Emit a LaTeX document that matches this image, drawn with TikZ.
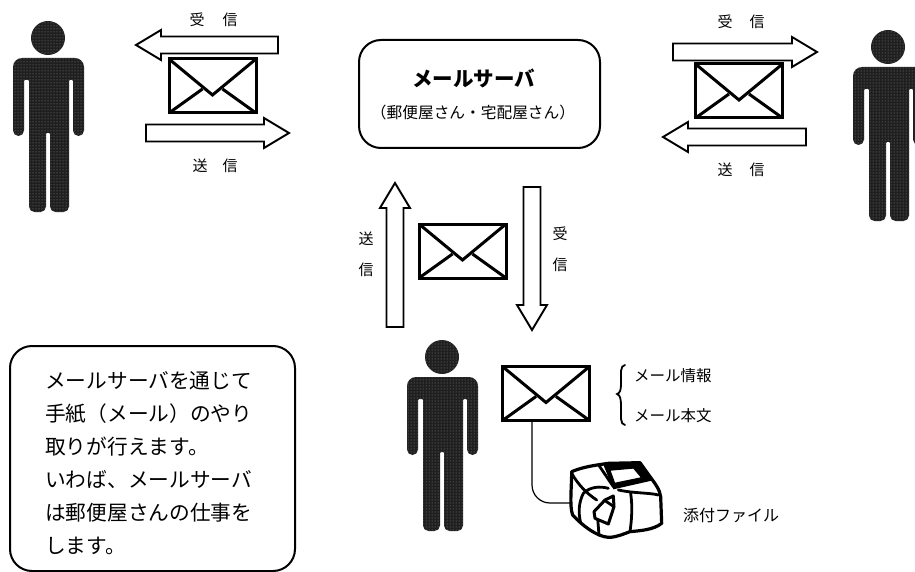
\documentclass[tikz,border=0pt]{standalone}
\usepackage{fontspec}
\usetikzlibrary{calc,patterns}
\newfontfamily\jp{Noto Sans CJK JP}
\newcommand{\jpsize}[2]{\jp\fontsize{#1}{#2}\selectfont}
\tikzset{
  x=1pt,y=-1pt,
  roundbox/.style={draw,line width=2pt,rounded corners=22pt,inner sep=0pt,outer sep=0pt,fill=white},
  label15/.style={inner sep=0pt,font=\jpsize{15}{31}},
  personfill/.style={fill=black!88,postaction={pattern=dots,pattern color=white!55!black}},
  envelope/.style={draw,line width=3pt,minimum width=87pt,minimum height=54pt,inner sep=0pt,outer sep=0pt,
    path picture={
      \draw[line width=3pt,line join=miter]
        (path picture bounding box.north west)
        -- ([yshift=-9pt]path picture bounding box.center)
        -- (path picture bounding box.north east);
      \draw[line width=3pt]
        (path picture bounding box.south west) -- ([xshift=-10pt,yshift=-3pt]path picture bounding box.center);
      \draw[line width=3pt]
        (path picture bounding box.south east) -- ([xshift=10pt,yshift=-3pt]path picture bounding box.center);
    }},
  blockarrow/.pic={
    \draw[line width=1.9pt,fill=white,line join=miter]
      (0,-8.5) -- (#1-25,-8.5) -- (#1-25,-15) -- (#1,0) -- (#1-25,15) -- (#1-25,8.5) -- (0,8.5) -- cycle;
  },
  person/.pic={
    \path[personfill] (0,0) circle[radius=17];
    \path[personfill,rounded corners=9pt]
      (0,20) -- (-35,20) [rounded corners=5.5pt] -- (-35,98) -- (-24,98) [rounded corners=1pt] -- (-24,42)
      -- (-19,42) [rounded corners=5.5pt] -- (-19,174) -- (-2,174) [rounded corners=1pt] -- (-2,95) -- (2,95)
      [rounded corners=5.5pt] -- (2,174) -- (21,174) [rounded corners=1pt] -- (21,42) -- (25,42) [rounded corners=5.5pt]
      -- (25,98) -- (36,98) [rounded corners=9pt] -- (36,20) -- cycle;
  }
}
\begin{document}
\begin{tikzpicture}
\clip (0,0) rectangle (915,572);

% Three people
\pic at (48,38) {person};
\pic at (888,47) {person};
\pic at (442,357) {person};

% Server and explanation panels
\node[roundbox,minimum width=241pt,minimum height=108pt] (server) at (479.5,94) {};
\node[inner sep=0pt,font=\jpsize{20.5}{24}\bfseries] (servertitle) at (473.5,78) {メールサーバ};
\node[inner sep=0pt,font=\jpsize{15.7}{18}] (serversub) at (473,113) {（郵便屋さん・宅配屋さん）};
\node[roundbox,minimum width=285pt,minimum height=225pt] (notebox) at (152.5,458.5) {};
\node[inner sep=0pt,anchor=west,align=left,font=\jpsize{20.7}{33}] (notetext) at (45,463) {メールサーバを通じて\\手紙（メール）のやり\\取りが行えます。\\いわば、メールサーバ\\は郵便屋さんの仕事を\\します。};

% Envelopes
\node[envelope] (envleft) at (212.5,86) {};
\node[envelope] (envright) at (739,91) {};
\node[envelope] (envcentre) at (462.5,251) {};
\node[envelope] (envbottom) at (546,393.5) {};

% Send and receive arrows
\pic[rotate=180] at (278,45) {blockarrow=142};
\pic at (146,133) {blockarrow=143};
\pic at (673,52) {blockarrow=144};
\pic[rotate=180] at (806,137) {blockarrow=143};
\pic[rotate=90] at (395,327) {blockarrow=144};
\pic[rotate=-90] at (532,187) {blockarrow=143};

% Arrow captions
\node[label15] (recvl) at (213.5,20) {受\hspace{18pt}信};
\node[label15] (sendl) at (215,166) {送\hspace{15pt}信};
\node[label15] (recvr) at (741,22) {受\hspace{17pt}信};
\node[label15] (sendr) at (741,170) {送\hspace{17pt}信};
\node[label15,align=center] (sendc) at (366,254) {送\\信};
\node[label15,align=center] (recvc) at (560,249.5) {受\\信};

% Mail parts
\draw[line width=1.8pt,line cap=round] (625,365) .. controls (620,366) and (621,372) .. (621,384)
  .. controls (621,390) and (620,393) .. (617,394)
  .. controls (620,395) and (621,399) .. (621,405)
  .. controls (621,418) and (620,424) .. (625,425);
\node[inner sep=0pt,anchor=west,font=\jpsize{15.5}{18}] (mailinfo) at (634,376) {メール情報};
\node[inner sep=0pt,anchor=west,font=\jpsize{15.5}{18}] (mailbody) at (634,416) {メール本文};
\node[inner sep=0pt,anchor=west,font=\jpsize{16}{18}] (attachlabel) at (683,515) {添付ファイル};

% Attachment line and parcel
\coordinate (parcel) at (570,503);
\draw[line width=1.2pt,rounded corners=18pt] ([xshift=-14pt]envbottom.south) |- (parcel);
\begin{scope}[shift={(400,330)},scale=1/3,line join=round,line cap=round]
  \draw[line width=3.2pt,fill=white]
    (515,425) .. controls (550,410) and (590,405) .. (625,400)
    -- (720,398) -- (750,440) .. controls (765,460) and (780,480) .. (782,500)
    -- (785,580) .. controls (760,600) and (720,602) .. (690,605)
    .. controls (670,612) and (650,622) .. (625,622)
    .. controls (590,620) and (545,585) .. (518,555)
    .. controls (508,530) and (515,470) .. (515,425) -- cycle;
  % top face edges
  \draw[line width=2.8pt] (515,430) .. controls (535,465) and (560,490) .. (590,510);
  \draw[line width=2.8pt] (775,495) .. controls (750,488) and (700,490) .. (655,480);
  \draw[line width=2.8pt] (598,408) -- (640,470);
  \draw[line width=2.8pt] (550,490) .. controls (570,470) and (600,468) .. (625,475);
  % dark ribbon with its pale panel
  \fill[even odd rule] (610,404) -- (722,396) -- (755,452) -- (640,478) -- cycle
    (632,422) -- (700,416) -- (722,442) -- (645,458) -- cycle;
  % side folds
  \draw[line width=2.8pt] (550,490) .. controls (535,520) and (535,550) .. (542,578);
  \draw[line width=2.8pt] (593,565) -- (597,615);
  \draw[line width=2.8pt] (692,490) .. controls (698,530) and (695,570) .. (690,605);
  % bow
  \draw[line width=3pt,fill=white] (582,545) -- (615,510) -- (640,498) -- (642,530) -- (625,582) -- (585,565) -- cycle;
  \draw[line width=2.8pt] (615,512) -- (642,530);
\end{scope}
\end{tikzpicture}
\end{document}
